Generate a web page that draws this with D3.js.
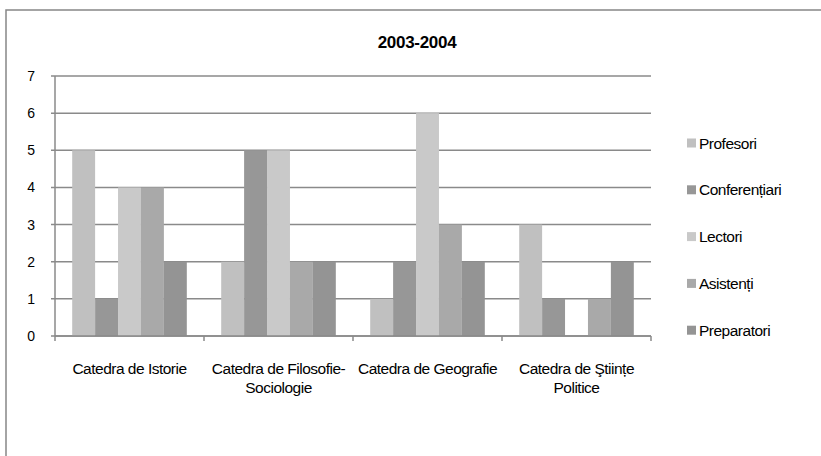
<!DOCTYPE html>
<html><head><meta charset="utf-8">
<script src="https://cdn.jsdelivr.net/npm/d3@7"></script>
<style>
body{margin:0;background:#fff;}
text{font-family:"Liberation Sans",Arial,sans-serif;fill:#000;}
</style></head>
<body><svg id="c" width="821" height="456"></svg>
<script>
const title = "2003-2004";
const categories = [["Catedra de Istorie"],["Catedra de Filosofie-","Sociologie"],["Catedra de Geografie"],["Catedra de Ştiințe","Politice"]];
const seriesNames = ["Profesori","Conferențiari","Lectori","Asistenți","Preparatori"];
const seriesColors = ["#c0c0c0","#979797","#c9c9c9","#a9a9a9","#949494"];
const profesori = [5,2,1,3];
const conferentiari = [1,5,2,1];
const lectori = [4,5,6,0];
const asistenti = [4,2,3,1];
const preparatori = [2,2,2,2];
const yTicks = [0,1,2,3,4,5,6,7];
const seriesValues = [profesori,conferentiari,lectori,asistenti,preparatori];

const svg = d3.select("#c");
svg.append("rect").attr("x",6).attr("y",10).attr("width",830).attr("height",460)
  .attr("fill","none").attr("stroke","#868686").attr("stroke-width",1.5);

const pL=55,pR=651,pT=76,pB=336;
const x0 = d3.scaleBand().domain(d3.range(categories.length)).range([pL,pR]).paddingInner(0);
const inner = 5/6.5;
const x1 = d3.scaleBand().domain(d3.range(seriesNames.length))
  .range([x0.bandwidth()*(1-inner)/2, x0.bandwidth()*(1+inner)/2]);
const y = d3.scaleLinear().domain([0,7]).range([pB,pT]);

svg.append("text").attr("x",417).attr("y",48).attr("text-anchor","middle")
  .style("font-size","17px").style("font-weight","bold").style("letter-spacing","-0.3px").text(title);

// gridlines
svg.append("g").selectAll("line").data(yTicks).join("line")
  .attr("x1",pL-4).attr("x2",pR).attr("y1",d=>y(d)).attr("y2",d=>y(d))
  .attr("stroke","#8a8a8a").attr("stroke-width",1.5);
svg.append("g").selectAll("text").data(yTicks).join("text")
  .attr("x",35).attr("y",d=>y(d)+5).attr("text-anchor","end").style("font-size","14px").text(d=>d);

// bars
const g = svg.append("g");
categories.forEach((c,ci)=>{
  seriesValues.forEach((vals,si)=>{
    const v = vals[ci];
    g.append("rect").attr("x",x0(ci)+x1(si)).attr("width",x1.bandwidth())
      .attr("y",y(v)).attr("height",y(0)-y(v)).attr("fill",seriesColors[si]);
  });
});

// axes
svg.append("line").attr("x1",pL).attr("x2",pL).attr("y1",pT).attr("y2",pB)
  .attr("stroke","#8a8a8a").attr("stroke-width",1.5);
svg.append("line").attr("x1",pL).attr("x2",pR).attr("y1",pB).attr("y2",pB)
  .attr("stroke","#8a8a8a").attr("stroke-width",1.5);
const bounds = d3.range(categories.length+1).map(i=> i<categories.length ? x0(i) : pR);
svg.append("g").selectAll("line").data(bounds).join("line")
  .attr("x1",d=>d).attr("x2",d=>d).attr("y1",pB).attr("y2",pB+5)
  .attr("stroke","#8a8a8a").attr("stroke-width",1.5);

// category labels
categories.forEach((lines,ci)=>{
  const t = svg.append("text").attr("text-anchor","middle").style("font-size","15.5px").style("letter-spacing","-0.5px");
  lines.forEach((l,li)=>{
    t.append("tspan").attr("x",x0(ci)+x0.bandwidth()/2).attr("y",374+li*19).text(l);
  });
});

// legend
const lg = svg.append("g");
seriesNames.forEach((n,i)=>{
  const cy = 143 + i*46.8;
  lg.append("rect").attr("x",687).attr("y",cy-4.5).attr("width",9).attr("height",9).attr("fill",seriesColors[i]);
  lg.append("text").attr("x",699).attr("y",cy+5.5).style("font-size","15.5px").style("letter-spacing","-0.5px").text(n);
});
</script></body></html>
